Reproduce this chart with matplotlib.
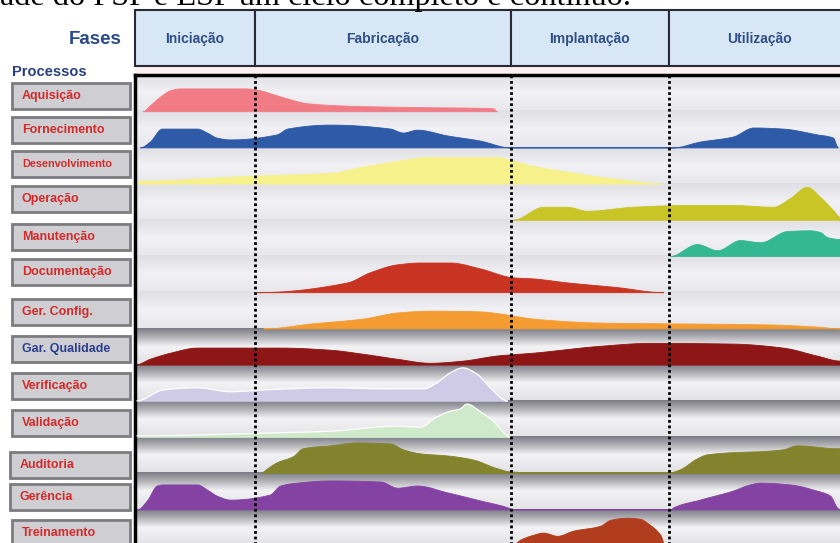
import numpy as np
import matplotlib
matplotlib.use("Agg")
import matplotlib.pyplot as plt
from matplotlib.patches import Rectangle
from matplotlib.colors import to_rgb

# ---------------- data ----------------
caption = "ade do PSP e ESP um ciclo completo e contínuo."
phases = ["Iniciação", "Fabricação", "Implantação", "Utilização"]
phase_edges = [0, 17.0, 53.3, 75.7, 100]          # % of life cycle

processes = ["Aquisição", "Fornecimento", "Desenvolvimento", "Operação",
             "Manutenção", "Documentação", "Ger. Config.", "Gar. Qualidade",
             "Verificação", "Validação", "Auditoria", "Gerência", "Treinamento"]

# effort curves: t = % of life cycle, h = relative effort (1 = full row)
aquisicao_t = [1.1, 2.1, 3.6, 5.0, 6.4, 15.6, 17.7, 19.6, 22.0, 24.4, 32.3, 41.8, 50.8, 51.3]
aquisicao_h = [0, 0.16, 0.41, 0.58, 0.63, 0.63, 0.58, 0.47, 0.33, 0.22, 0.14, 0.11, 0.08, 0]

fornecimento_t = [0.7, 2.1, 3.8, 8.8, 10.2, 11.6, 13.5, 20.1, 21.6, 27.7, 36.2, 38.0, 40.0,
                  44.3, 48.9, 53.2, 76.3, 80.1, 84.8, 87.7, 91.9, 96.7, 99.0, 99.7]
fornecimento_h = [0, 0.16, 0.52, 0.52, 0.41, 0.27, 0.22, 0.36, 0.52, 0.63, 0.52, 0.41, 0.49,
                  0.33, 0.19, 0, 0, 0.16, 0.30, 0.55, 0.52, 0.36, 0.27, 0]

desenvolvimento_t = [0, 16.7, 27.7, 32.3, 37.2, 41.8, 51.3, 53.2, 56.5, 61.3, 66.0, 70.6, 74.5]
desenvolvimento_h = [0.08, 0.22, 0.30, 0.47, 0.63, 0.74, 0.74, 0.66, 0.49, 0.33, 0.19, 0.08, 0]

operacao_t = [53.6, 57.9, 61.3, 64.1, 70.6, 78.3, 84.8, 90.5, 92.9, 95.3, 97.2, 99.0, 100]
operacao_h = [0, 0.36, 0.36, 0.25, 0.36, 0.41, 0.41, 0.36, 0.60, 0.91, 0.63, 0.27, 0.08]

manutencao_t = [75.9, 79.7, 82.6, 85.8, 88.7, 92.5, 95.7, 97.2, 98.2, 100]
manutencao_h = [0, 0.33, 0.16, 0.44, 0.38, 0.69, 0.71, 0.66, 0.52, 0.47]

documentacao_t = [17.3, 30.1, 33.3, 37.2, 40.4, 44.7, 48.9, 53.6, 56.5, 61.3, 68.4, 74.9]
documentacao_h = [0, 0.27, 0.55, 0.77, 0.82, 0.82, 0.66, 0.41, 0.38, 0.27, 0.14, 0]

gerconfig_t = [18.2, 25.2, 32.3, 37.2, 41.8, 48.9, 51.8, 56.5, 66.0, 75.5, 89.6, 96.7, 100]
gerconfig_h = [0, 0.14, 0.27, 0.44, 0.49, 0.47, 0.41, 0.27, 0.16, 0.14, 0.11, 0.05, 0]

garqualidade_t = [0, 2.1, 5.0, 8.8, 13.5, 20.6, 27.7, 32.3, 37.2, 41.8, 46.5, 51.3, 56.5,
                  66.0, 73.0, 84.8, 91.9, 96.7, 100]
garqualidade_h = [0, 0.16, 0.33, 0.47, 0.47, 0.47, 0.41, 0.30, 0.16, 0.05, 0.11, 0.25, 0.33,
                  0.52, 0.60, 0.58, 0.47, 0.25, 0.11]

verificacao_t = [0.3, 4.0, 8.8, 13.5, 18.2, 27.7, 34.8, 40.9, 42.8, 44.7, 46.5, 48.5, 50.4, 52.8]
verificacao_h = [0, 0.30, 0.36, 0.25, 0.30, 0.36, 0.33, 0.33, 0.49, 0.77, 0.91, 0.74, 0.36, 0]

validacao_t = [0.3, 13.5, 27.7, 37.2, 40.4, 42.8, 44.7, 46.1, 47.1, 48.9, 50.8, 52.2, 53.2]
validacao_h = [0.03, 0.08, 0.16, 0.30, 0.27, 0.55, 0.71, 0.77, 0.91, 0.71, 0.44, 0.14, 0]

auditoria_t = [17.9, 18.2, 20.1, 22.4, 23.8, 27.7, 31.5, 36.2, 38.0, 40.4, 44.3, 47.9, 51.3,
               53.2, 56.0, 75.9, 77.3, 79.7, 81.1, 91.9, 93.9, 99.6, 100]
auditoria_h = [0, 0.05, 0.30, 0.47, 0.69, 0.77, 0.85, 0.82, 0.66, 0.55, 0.49, 0.38, 0.14,
               0.05, 0.03, 0.03, 0.11, 0.41, 0.52, 0.66, 0.77, 0.69, 0.69]

gerencia_t = [0.3, 1.7, 3.1, 4.0, 8.8, 10.2, 11.6, 13.5, 19.1, 20.6, 23.0, 27.7, 34.8, 37.2,
              40.0, 44.3, 48.9, 53.2, 53.5, 76.0, 76.3, 80.1, 84.8, 87.2, 88.7, 92.9, 96.7,
              98.6, 99.6, 100]
gerencia_h = [0, 0.25, 0.66, 0.69, 0.69, 0.55, 0.38, 0.27, 0.41, 0.66, 0.74, 0.80, 0.77, 0.60,
              0.66, 0.47, 0.25, 0.03, 0, 0, 0.05, 0.27, 0.52, 0.69, 0.74, 0.69, 0.52,
              0.38, 0.05, 0]

treinamento_t = [53.5, 54.6, 56.5, 57.9, 59.9, 62.1, 66.0, 67.4, 69.8, 71.6, 73.0, 74.5, 75.2]
treinamento_h = [0, 0.16, 0.30, 0.36, 0.27, 0.41, 0.55, 0.71, 0.77, 0.74, 0.58, 0.30, 0]

curves = [
    (aquisicao_t, aquisicao_h, "#f27c85"),
    (fornecimento_t, fornecimento_h, "#2f5aa8"),
    (desenvolvimento_t, desenvolvimento_h, "#f7f18c"),
    (operacao_t, operacao_h, "#c9c526"),
    (manutencao_t, manutencao_h, "#34b893"),
    (documentacao_t, documentacao_h, "#c93322"),
    (gerconfig_t, gerconfig_h, "#f49c32"),
    (garqualidade_t, garqualidade_h, "#8e1616"),
    (verificacao_t, verificacao_h, "#cfcbe6"),
    (validacao_t, validacao_h, "#cfeacb"),
    (auditoria_t, auditoria_h, "#83832e"),
    (gerencia_t, gerencia_h, "#8443a3"),
    (treinamento_t, treinamento_h, "#b23c1e"),
]

# ---------------- layout ----------------
W, H = 840, 543
PX0, PX1 = 135, 840
PY0 = 75
ROW_H = 36.2
HDR_TOP, HDR_BOT = 10, 66
label_centers = [96, 130, 164, 199, 237, 272, 312, 349, 386, 423, 465, 497, 533]


def tx(t):
    return PX0 + t * (PX1 - PX0) / 100.0


def pchip_draw(x, y, n_per=12):
    """Monotone cubic rendering of the polyline (for drawing only)."""
    x = np.asarray(x, float)
    y = np.asarray(y, float)
    hk = np.diff(x)
    dk = np.diff(y) / hk
    m = np.zeros_like(y)
    for k in range(1, len(x) - 1):
        if dk[k - 1] * dk[k] > 0:
            w1 = 2 * hk[k] + hk[k - 1]
            w2 = hk[k] + 2 * hk[k - 1]
            m[k] = (w1 + w2) / (w1 / dk[k - 1] + w2 / dk[k])
    xs, ys = [], []
    for k in range(len(x) - 1):
        s = np.linspace(0, 1, n_per, endpoint=False)
        h = hk[k]
        h00 = 2 * s**3 - 3 * s**2 + 1
        h10 = s**3 - 2 * s**2 + s
        h01 = -2 * s**3 + 3 * s**2
        h11 = s**3 - s**2
        xs.append(x[k] + s * h)
        ys.append(h00 * y[k] + h10 * h * m[k] + h01 * y[k + 1] + h11 * h * m[k + 1])
    xs.append([x[-1]])
    ys.append([y[-1]])
    return np.concatenate(xs), np.clip(np.concatenate(ys), 0, None)


plt.rcParams['font.family'] = ['Liberation Sans', 'DejaVu Sans']
fig = plt.figure(figsize=(W / 100, H / 100), dpi=100)
fig.patch.set_facecolor("white")

# overlay axes in pixel coordinates
ov = fig.add_axes([0, 0, 1, 1])
ov.set_xlim(0, W)
ov.set_ylim(H, 0)
ov.axis("off")

# caption (cut off at top like the source)
ov.text(0, 5, caption, family="Liberation Serif", fontsize=23.2, va="baseline",
        ha="left", color="black")

# faint strip under header
ov.add_patch(Rectangle((PX0, HDR_BOT), W - PX0, PY0 - HDR_BOT, facecolor="#fcf1ee",
                       edgecolor="none", zorder=0))

# header boxes
hdr_edges = list(phase_edges)
hdr_edges[-1] = 101.5
for i, name in enumerate(phases):
    x0, x1 = tx(hdr_edges[i]), tx(hdr_edges[i + 1])
    ov.add_patch(Rectangle((x0, HDR_TOP), x1 - x0, HDR_BOT - HDR_TOP,
                           facecolor="#d8e7f6", edgecolor="#2a2a36", lw=1.5, zorder=2))
    ov.text((x0 + x1) / 2, (HDR_TOP + HDR_BOT) / 2 + 1, name, ha="center", va="center",
            fontsize=10, fontweight="bold", color="#2f4f86", zorder=3)

ov.text(122, 39, "Fases", ha="right", va="center", fontsize=13.5, fontweight="bold",
        color="#2b4a8a")
ov.text(12, 72, "Processos", ha="left", va="center", fontsize=10.5, fontweight="bold",
        color="#2b3f80")

# process label boxes
for name, yc in zip(processes, label_centers):
    x0 = 10 if name in ("Auditoria", "Gerência") else 12
    ov.add_patch(Rectangle((x0, yc - 13), 130 - x0, 26, facecolor="#cfcfd3",
                           edgecolor="#7c7c80", lw=2.0, zorder=2))
    color = "#2b3f8f" if name == "Gar. Qualidade" else "#d42a2a"
    fs = 7.8 if name == "Desenvolvimento" else 9.0
    ov.text(x0 + 10, yc, name, ha="left", va="center", fontsize=fs, fontweight="bold",
            color=color, zorder=3)

# main panel axes
n_vis = (H - PY0) / ROW_H
ax = fig.add_axes([PX0 / W, 0, (PX1 - PX0) / W, (H - PY0) / H])


def gradient(stops, n=64):
    pos = np.linspace(0, 1, n)
    xs = [s[0] for s in stops]
    cols = np.array([to_rgb(s[1]) for s in stops])
    out = np.stack([np.interp(pos, xs, cols[:, k]) for k in range(3)], axis=1)
    return out[:, None, :]


light = gradient([(0, "#dfdfe4"), (0.5, "#f2f1f5"), (1, "#e8e8ec")])
dark = gradient([(0, "#7c7c86"), (0.22, "#acacb2"), (0.5, "#f3f3f5"), (1, "#e2e2e6")])

for i in range(len(processes)):
    g = light if i < 7 else dark
    ax.imshow(g, extent=[0, 100, i + 1, i], aspect="auto", interpolation="bilinear",
              zorder=0)

for i, (t, h, c) in enumerate(curves):
    base = i + 1
    xs, hs = pchip_draw(t, h)
    top = base - hs
    ax.fill_between(xs, base, top, facecolor=c, edgecolor=c, lw=0.6, zorder=2)
    if processes[i] in ("Verificação", "Validação"):
        ax.plot(xs, top, color="white", lw=0.9, zorder=3)

ax.vlines(phase_edges[1:4], 0, n_vis, colors="black", linestyles=(0, (1, 1)), lw=2.0,
          zorder=4)

ax.set_xlim(0, 100)
ax.set_ylim(n_vis, 0)
ax.set_xticks([])
ax.set_yticks([])
for s in ("right", "bottom"):
    ax.spines[s].set_visible(False)
for s in ("left", "top"):
    ax.spines[s].set_linewidth(2.5)
    ax.spines[s].set_color("black")

fig.savefig("out.png", dpi=100)
